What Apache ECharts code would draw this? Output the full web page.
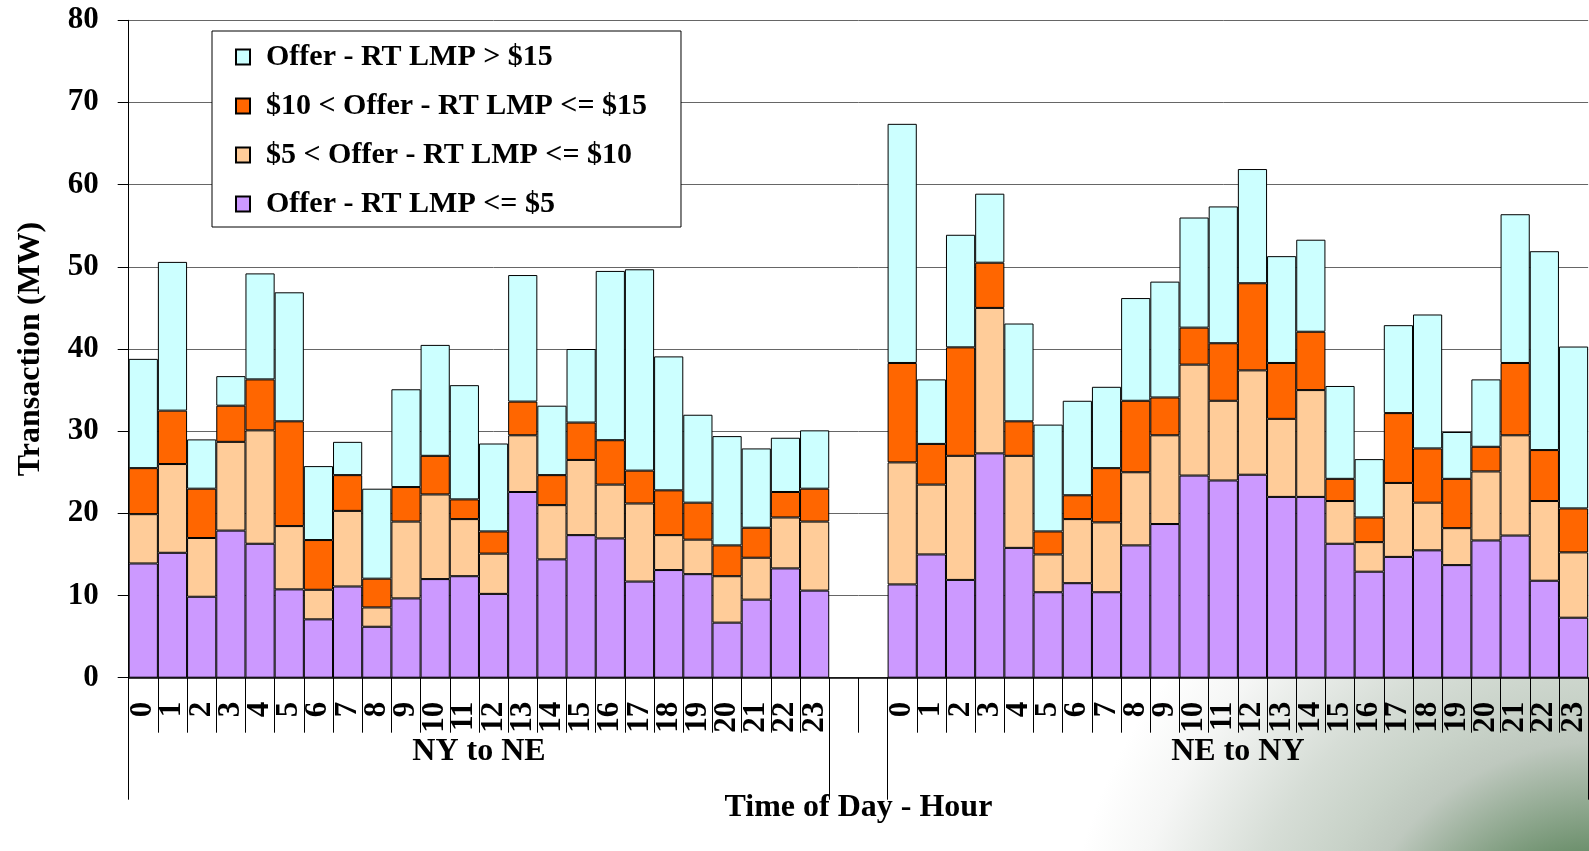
<!DOCTYPE html>
<html>
<head>
<meta charset="utf-8">
<script src="https://cdn.jsdelivr.net/npm/echarts@6/dist/echarts.min.js"></script>
<style>
html,body{margin:0;padding:0;background:#fff;}
#chart{width:1589px;height:851px;}
</style>
</head>
<body>
<div id="chart"></div>
<script>
// ---- data ----
var hours = ['0','1','2','3','4','5','6','7','8','9','10','11','12','13','14','15','16','17','18','19','20','21','22','23'];
var groups = ['NY to NE', 'NE to NY'];
var seriesNames = ['Offer - RT LMP <= $5', '$5 < Offer - RT LMP <= $10', '$10 < Offer - RT LMP <= $15', 'Offer - RT LMP > $15'];

// NY to NE (MW per hour)
var nyne_le5   = [13.9,15.2,9.85,17.9,16.3,10.75,7.1,11.1,6.2,9.65,12.0,12.35,10.2,22.6,14.4,17.35,16.95,11.7,13.1,12.6,6.7,9.5,13.3,10.6];
var nyne_5to10 = [6.0,10.8,7.15,10.8,13.8,7.7,3.6,9.2,2.35,9.35,10.3,6.95,4.9,6.9,6.6,9.15,6.55,9.5,4.25,4.2,5.65,5.1,6.2,8.4];
var nyne_10to15= [5.6,6.5,6.0,4.4,6.2,12.75,6.05,4.35,3.5,4.2,4.7,2.4,2.7,4.1,3.65,4.55,5.4,4.0,5.45,4.5,3.75,3.65,3.1,4.0];
var nyne_gt15  = [13.3,18.1,6.0,3.6,12.9,15.7,9.0,4.05,10.95,11.9,13.5,13.9,10.7,15.4,8.45,8.95,20.6,24.5,16.3,10.7,13.3,9.65,6.6,7.1];

// NE to NY (MW per hour)
var neny_le5   = [11.35,15.0,11.9,27.3,15.8,10.4,11.5,10.4,16.1,18.7,24.6,24.0,24.7,22.0,22.0,16.3,12.9,14.7,15.5,13.7,16.7,17.3,11.8,7.3];
var neny_5to10 = [14.85,8.5,15.1,17.7,11.2,4.6,7.8,8.5,8.9,10.8,13.5,9.7,12.7,9.5,13.0,5.2,3.6,9.0,5.8,4.5,8.4,12.2,9.7,7.95];
var neny_10to15= [12.1,4.95,13.2,5.5,4.2,2.8,2.9,6.6,8.7,4.6,4.5,7.0,10.6,6.8,7.1,2.7,3.0,8.5,6.6,6.0,3.0,8.8,6.2,5.35];
var neny_gt15  = [29.1,7.85,13.7,8.4,11.9,13.0,11.5,9.9,12.5,14.1,13.4,16.65,13.9,13.0,11.2,11.3,7.1,10.7,16.3,5.7,8.2,18.1,24.2,19.7];

var yTicks = [0,10,20,30,40,50,60,70,80];
var gap = ['', ''];

// ---- build ----
var categories = hours.concat(gap, hours);
function join(a, b) { return a.concat([null, null], b); }
var stackData = [
  join(nyne_le5, neny_le5),
  join(nyne_5to10, neny_5to10),
  join(nyne_10to15, neny_10to15),
  join(nyne_gt15, neny_gt15)
];
var colors = ['#CC99FF', '#FFCC99', '#FF6600', '#CCFFFF'];
var FONT = "'Liberation Serif', 'Times New Roman', serif";
var nCat = categories.length;
var groupTicks = [0, hours.length, hours.length + gap.length, nCat];
var groupCenters = [hours.length / 2, hours.length + gap.length + hours.length / 2];

var chart = echarts.init(document.getElementById('chart'), null, {renderer: 'canvas'});

var series = seriesNames.map(function (name, i) {
  return {
    name: name,
    type: 'bar',
    stack: 'total',
    xAxisIndex: 0,
    yAxisIndex: 0,
    barCategoryGap: '0%',
    barGap: '0%',
    data: stackData[i],
    itemStyle: { color: colors[i], borderColor: '#000', borderWidth: 1 },
    emphasis: { disabled: true }
  };
});

var option = {
  animation: false,
  backgroundColor: '#fff',
  textStyle: { fontFamily: FONT },
  graphic: {
    elements: [{
      type: 'rect',
      z: -100,
      silent: true,
      shape: { x: 0, y: 0, width: 1589, height: 851 },
      style: {
        fill: new echarts.graphic.RadialGradient(1600, 1000, 600, [
          { offset: 0, color: '#3f6f3f' },
          { offset: 0.15, color: '#587f58' },
          { offset: 0.25, color: '#6e916e' },
          { offset: 0.43, color: '#bec8be' },
          { offset: 0.5, color: '#c8d2c8' },
          { offset: 0.61, color: '#d6ddd6' },
          { offset: 0.79, color: '#f5f6f5' },
          { offset: 0.9, color: '#ffffff' },
          { offset: 1, color: '#ffffff' }
        ], true)
      }
    }]
  },
  grid: { left: 128.7, top: 20.3, width: 1463, height: 657.4, containLabel: false },
  legend: {
    orient: 'vertical',
    left: 212,
    top: 31,
    padding: [11, 34, 8, 23],
    itemGap: 19,
    itemWidth: 14,
    itemHeight: 15,
    icon: 'rect',
    backgroundColor: '#fff',
    borderColor: '#000',
    borderWidth: 1,
    data: seriesNames.slice().reverse(),
    textStyle: { fontFamily: FONT, fontSize: 30, fontWeight: 'bold', color: '#000', padding: [0, 0, 0, 11] }
  },
  xAxis: [{
    type: 'category',
    data: categories,
    position: 'bottom',
    boundaryGap: true,
    axisLine: { show: true, lineStyle: { color: '#000', width: 1.5 } },
    axisTick: { show: true, interval: 0, length: 55, lineStyle: { color: '#000', width: 1 } },
    axisLabel: {
      interval: 0, rotate: 90, margin: 24,
      fontFamily: FONT, fontSize: 31, fontWeight: 'bold', color: '#000'
    },
    splitLine: { show: false }
  }, {
    type: 'value',
    min: 0,
    max: nCat,
    position: 'bottom',
    axisLine: { show: false },
    splitLine: { show: false },
    axisTick: { show: true, customValues: groupTicks, length: 122, lineStyle: { color: '#000', width: 1 } },
    axisLabel: {
      show: true, customValues: groupCenters, margin: 58,
      fontFamily: FONT, fontSize: 32, fontWeight: 'bold', color: '#000',
      formatter: function (v) { return v < nCat / 2 ? groups[0] : groups[1]; }
    },
    name: 'Time of Day - Hour',
    nameLocation: 'middle',
    nameGap: 114,
    nameTextStyle: { fontFamily: FONT, fontSize: 32, fontWeight: 'bold', color: '#000' }
  }],
  yAxis: {
    type: 'value',
    min: yTicks[0],
    max: yTicks[yTicks.length - 1],
    interval: 10,
    axisLine: { show: true, lineStyle: { color: '#000', width: 1 } },
    axisTick: { show: true, length: 11, lineStyle: { color: '#000' } },
    axisLabel: { margin: 30, fontFamily: FONT, fontSize: 31, fontWeight: 'bold', color: '#000' },
    splitLine: { show: true, lineStyle: { color: '#666', width: 1 } },
    name: 'Transaction (MW)',
    nameLocation: 'middle',
    nameRotate: 90,
    nameGap: 82,
    nameTextStyle: { fontFamily: FONT, fontSize: 32, fontWeight: 'bold', color: '#000' }
  },
  series: series
};
chart.setOption(option);
</script>
</body>
</html>
